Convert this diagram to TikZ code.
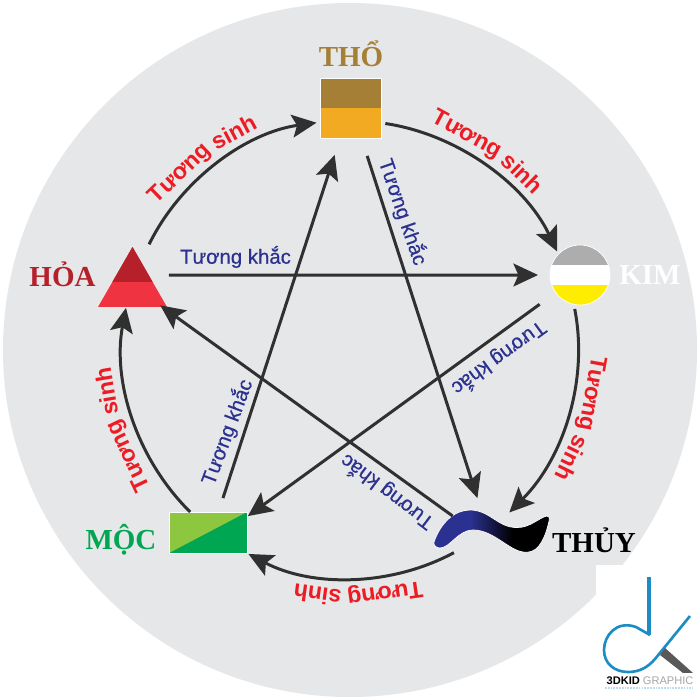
\documentclass[tikz,border=0pt]{standalone}
\usepackage{fontspec}
\setmainfont{Liberation Serif}
\setsansfont{Liberation Sans}
\newfontfamily\khacfont[FakeBold=0.5]{Liberation Sans}
\usetikzlibrary{arrows.meta,calc}
\definecolor{bggray}{HTML}{E6E7E8}
\definecolor{linegray}{HTML}{303030}
\definecolor{sinhred}{HTML}{ED1C24}
\definecolor{khacblue}{HTML}{2B3190}
\definecolor{thodark}{HTML}{A67F37}
\definecolor{tholight}{HTML}{F2AA22}
\definecolor{hoadark}{HTML}{B5202A}
\definecolor{hoalight}{HTML}{EF3340}
\definecolor{mocdark}{HTML}{00A651}
\definecolor{moclight}{HTML}{8DC63F}
\definecolor{logoblue}{HTML}{1B8DC4}
\pgfdeclarehorizontalshading{thuyshade}{100bp}{rgb(0bp)=(0.169,0.192,0.565); rgb(41bp)=(0.169,0.192,0.565); rgb(59bp)=(0,0,0); rgb(100bp)=(0,0,0)}

\begin{document}
\begin{tikzpicture}[
    x=0.02cm, y=0.02cm,
    symbol/.style={inner sep=0pt, outer sep=0pt},
    element/.style={font=\rmfamily\bfseries\fontsize{16.5}{18}\selectfont, anchor=base, inner sep=0pt},
    sinh/.style={-{Stealth[length=14pt,width=13pt,inset=2.8pt]}, line width=1.7pt, color=linegray, bend left=28, looseness=0.9},
    khac/.style={-{Stealth[length=14pt,width=13pt,inset=2.8pt]}, line width=1.7pt, color=linegray},
    khactext/.style={font=\khacfont\fontsize{11.6}{13}\selectfont, text=khacblue, inner sep=0pt},
    sinhtext/.style={font=\sffamily\bfseries\fontsize{13.2}{15}\selectfont, text=sinhred, anchor=base, inner sep=0pt}
]
\useasboundingbox (0,0) rectangle (700,700);
\fill[white] (0,0) rectangle (700,700);
\fill[bggray] (350,350) circle (347);
\fill[white] (596,0) rectangle (700,135);

% five elements
\node[symbol, minimum width=1.22cm, minimum height=1.2cm, draw=white, line width=0.4pt,
    path picture={
        \fill[tholight] (path picture bounding box.south west) rectangle (path picture bounding box.north east);
        \fill[thodark] (path picture bounding box.west) rectangle (path picture bounding box.north east);
    }] (tho) at (350.5,592) {};
\node[symbol, circle, minimum size=1.2cm, fill=white, draw=white, line width=0.4pt,
    path picture={
        \fill[black!32] ([yshift=0.2cm]path picture bounding box.west) rectangle (path picture bounding box.north east);
        \fill[yellow!95!orange] (path picture bounding box.south west) rectangle ([yshift=-0.2cm]path picture bounding box.east);
    }] (kim) at (580,425) {};
\node[symbol, minimum width=1.38cm, minimum height=1.2cm,
    path picture={
        \coordinate (apex) at (path picture bounding box.north);
        \coordinate (bl) at (path picture bounding box.south west);
        \coordinate (br) at (path picture bounding box.south east);
        \fill[hoalight] (apex) -- (bl) -- (br) -- cycle;
        \fill[hoadark] (apex) -- ($(apex)!0.583!(bl)$) -- ($(apex)!0.583!(br)$) -- cycle;
    }] (hoa) at (132.5,423) {};
\node[symbol, minimum width=1.56cm, minimum height=0.82cm, draw=white, line width=0.4pt,
    path picture={
        \fill[mocdark] (path picture bounding box.south west) rectangle (path picture bounding box.north east);
        \fill[moclight] (path picture bounding box.south west) -- (path picture bounding box.north west) -- (path picture bounding box.north east) -- cycle;
    }] (moc) at (208,167.5) {};
\shade[shading=thuyshade, draw=white, line width=0.4pt]
    (434,158) .. controls (441,178) and (455,190) .. (470,190)
    .. controls (490,190) and (498,172) .. (517,172.5)
    .. controls (530,172) and (540,183) .. (547,184)
    .. controls (549,184) and (550,182) .. (549.3,180)
    .. controls (546,165) and (540,148) .. (527,147.7)
    .. controls (510,147) and (495,170) .. (473,170)
    .. controls (458,170) and (450,152) .. (440,152)
    .. controls (436,152) and (433,155) .. (434,158) -- cycle;
\node[symbol, minimum width=2.3cm, minimum height=0.84cm] (thuy) at (491.5,169) {};

\node[element, text=thodark] (tholabel) at (351,633) {THỔ};
\node[element, text=white] (kimlabel) at (650,415) {KIM};
\node[element, text=hoadark] (hoalabel) at (62.5,413) {HỎA};
\node[element, text=mocdark] (moclabel) at (121,150) {MỘC};
\node[element, text=black] (thuylabel) at (594,147) {THỦY};

% outer ring
\draw[sinh, shorten <=1.7pt, shorten >=2pt] (hoa.63) to (tho.205);
\draw[sinh, shorten <=2.5pt, shorten >=1.7pt] (tho.-26) to (kim.136);
\draw[sinh, shorten <=2.7pt, shorten >=-2pt] (kim.258) to (thuy.46);
\draw[sinh, shorten <=0.8pt, shorten >=1.2pt] (thuy.210) to (moc.-28);
\draw[sinh, shorten >=0.5pt] (moc.131.5) to (hoa.258);

% inner star
\draw[khac, shorten <=1.1pt, shorten >=6.8pt] (hoa.3.3) -- (kim.180);
\draw[khac, shorten <=10.7pt, shorten >=7.1pt] (tho.-70.4) -- (thuy.116.6);
\draw[khac, shorten <=11.3pt, shorten >=0.6pt] (kim.216) -- (moc.22.4);
\draw[khac, shorten <=-5.8pt, shorten >=-1.6pt] (thuy.156.3) -- (hoa.-45.5);
\draw[khac, shorten <=8.3pt, shorten >=10.1pt] (moc.63.1) -- (tho.251.7);

\node[khactext] (khac1) at (235.5,443) {Tương khắc};
\node[khactext, rotate=-71] (khac2) at (403,488) {Tương khắc};
\node[khactext, rotate=216] (khac3) at (499,342) {Tương khắc};
\node[khactext, rotate=143] (khac4) at (387,208) {Tương khắc};
\node[khactext, rotate=69.5] (khac5) at (227,268) {Tương khắc};

\begin{scope}[shift={(350,350)}]
\node[sinhtext, rotate=43.9] (sinh1a) at (133.9:239) {Tương};
\node[sinhtext, rotate=28.1] (sinh1b) at (118.1:239) {sinh};
\node[sinhtext, rotate=-28.5] (sinh2a) at (61.5:239) {Tương};
\node[sinhtext, rotate=-44.3] (sinh2b) at (45.7:239) {sinh};
\node[sinhtext, rotate=-100.2] (sinh3a) at (-10.2:239) {Tương};
\node[sinhtext, rotate=-116] (sinh3b) at (-26:239) {sinh};
\node[sinhtext, rotate=-171.8] (sinh4a) at (-81.8:239) {Tương};
\node[sinhtext, rotate=-187.6] (sinh4b) at (-97.6:239) {sinh};
\node[sinhtext, rotate=115.5] (sinh5a) at (205.5:239) {Tương};
\node[sinhtext, rotate=99.7] (sinh5b) at (189.7:239) {sinh};
\end{scope}

% logo
\draw[logoblue, line width=2.6pt] (649,123) -- (649,65);
\draw[logoblue, line width=1.5pt] (650,65) -- (636,73) .. controls (616,80) and (604,64) .. (604,50)
    .. controls (604,36) and (615,28) .. (628,28) .. controls (640,28) and (648,33) .. (655,41) -- (690,84);
\fill[black!65] (665,52) -- (660,45) -- (683,27) -- (693,27) -- cycle;
\node[font=\sffamily\fontsize{6.3}{7}\selectfont, anchor=base, inner sep=0pt] (logotext) at (650,15) {\textbf{3DKID} \textcolor{black!35}{GRAPHIC}};
\draw[logoblue!30, line width=0.6pt, dash pattern=on 1pt off 0.6pt] (605,12) -- (693,12);
\end{tikzpicture}
\end{document}
